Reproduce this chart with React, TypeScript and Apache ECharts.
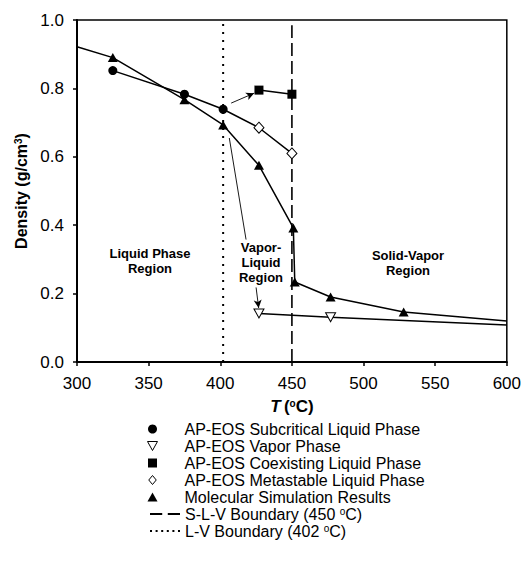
import React, { useEffect, useRef } from "react";
import * as echarts from "echarts";

const FONT = "'Liberation Sans', Arial, Helvetica, sans-serif";

// Series data [T (°C), density (g/cm3)]
const subcriticalLiquid: number[][] = [[325, 0.852], [375, 0.783], [402, 0.739]];
const vaporPhase: number[][] = [[427, 0.142], [477, 0.131], [600, 0.108]];
const coexistingLiquid: number[][] = [[427, 0.795], [450, 0.783]];
const metastableLiquid: number[][] = [[402, 0.739], [427, 0.685], [450, 0.61]];
const molecularSim: number[][] = [
  [300, 0.922], [325, 0.89], [375, 0.767], [402, 0.693], [427, 0.575],
  [451, 0.392], [452, 0.234], [477, 0.19], [528, 0.146], [600, 0.12],
];
const slvBoundary: number[][] = [[450, 0], [450, 0.985]];
const lvBoundary: number[][] = [[402, 0], [402, 1]];

const xTicks = { min: 300, max: 600, interval: 50 };
const yTicks = { min: 0, max: 1, interval: 0.2 };

const names = {
  sub: "AP-EOS Subcritical Liquid Phase",
  vap: "AP-EOS Vapor Phase",
  coex: "AP-EOS Coexisting Liquid Phase",
  meta: "AP-EOS Metastable Liquid Phase",
  ms: "Molecular Simulation Results",
  slv: "S-L-V Boundary (450 °C)",
  lv: "L-V Boundary (402 °C)",
};

// endpoints of annotation arrows (data coords)
const arrows: number[][][] = [
  [[407.6, 0.757], [423.6, 0.786]],
  [[418, 0.358], [406.3, 0.655]],
  [[425, 0.218], [426.8, 0.158]],
];

const openStyle = { color: "#fff", borderColor: "#000", borderWidth: 1 };
const downTri = "path://M0,0L10,0L5,9Z";
const upTri = "path://M5,0L10,9L0,9Z";
const square = "path://M0,0H10V10H0Z";
const diamond = "path://M5,0L10,6L5,12L0,6Z";
const dashIcon = "path://M0,0h11v1.6h-11zM16,0h11v1.6h-11z";
const dotIcon = "path://M0,0h1.8v1.8h-1.8zM5,0h1.8v1.8h-1.8zM10,0h1.8v1.8h-1.8zM15,0h1.8v1.8h-1.8zM20,0h1.8v1.8h-1.8zM25,0h1.8v1.8h-1.8z";

export default function App() {
  const ref = useRef<HTMLDivElement>(null);
  useEffect(() => {
    if (!ref.current) return;
    const chart = echarts.init(ref.current, undefined, { renderer: "svg" });
    const noSym = (i: number, arr: number[][]) => (p: number[], j: number) =>
      j === i || (i === -2 && (j === 0 || j === arr.length - 1))
        ? { value: p, symbol: "none" }
        : p;
    const lineBase = {
      type: "line",
      color: "#000",
      lineStyle: { color: "#000", width: 1.5 },
      symbolSize: 9,
      z: 5,
    };
    const legendText = { fontSize: 16, color: "#000", fontFamily: FONT };
    const option: any = {
      animation: false,
      textStyle: { fontFamily: FONT },
      grid: { left: 77, right: 15, top: 20, bottom: 205, show: true, borderColor: "#000", borderWidth: 1.5, backgroundColor: "transparent" },
      xAxis: {
        type: "value",
        ...xTicks,
        name: "{i|T} {b|(}{sup|o}{b|C)}",
        nameLocation: "middle",
        nameGap: 36,
        nameTextStyle: {
          rich: {
            i: { fontSize: 17, fontWeight: "bold", fontStyle: "italic", fontFamily: FONT, color: "#000" },
            b: { fontSize: 17, fontWeight: "bold", fontFamily: FONT, color: "#000" },
            sup: { fontSize: 10, fontWeight: "bold", fontFamily: FONT, color: "#000", verticalAlign: "top" },
          },
        },
        axisLine: { lineStyle: { color: "#000", width: 2 } },
        axisTick: { show: true, length: 4, lineStyle: { color: "#000", width: 1.5 } },
        axisLabel: { color: "#000", fontSize: 17, fontFamily: FONT, margin: 13 },
        splitLine: { show: false },
      },
      yAxis: {
        type: "value",
        ...yTicks,
        name: "{b|Density (g/cm}{sup|3}{b|)}",
        nameLocation: "middle",
        nameGap: 46,
        nameTextStyle: {
          rich: {
            b: { fontSize: 16, fontWeight: "bold", fontFamily: FONT, color: "#000" },
            sup: { fontSize: 10, fontWeight: "bold", fontFamily: FONT, color: "#000", verticalAlign: "top" },
          },
        },
        axisLine: { show: true, lineStyle: { color: "#000", width: 2 } },
        axisTick: { show: true, length: 4, lineStyle: { color: "#000", width: 1.5 } },
        axisLabel: { color: "#000", fontSize: 17, fontFamily: FONT, margin: 13, formatter: (v: number) => v.toFixed(1) },
        splitLine: { show: false },
      },
      legend: [
        {
          orient: "vertical",
          left: 147,
          top: 421,
          padding: 0,
          itemWidth: 22,
          itemHeight: 9,
          itemGap: 1,
          symbolKeepAspect: true,
          textStyle: { ...legendText, padding: [0, 0, 0, 16] },
          data: [
            { name: names.sub, icon: "circle" },
            { name: names.vap, icon: downTri, itemStyle: openStyle },
            { name: names.coex, icon: square },
            { name: names.meta, icon: diamond, itemStyle: openStyle },
            { name: names.ms, icon: upTri },
          ],
          selectedMode: false,
        },
        {
          orient: "vertical",
          left: 150,
          top: 506,
          padding: 0,
          itemWidth: 30,
          itemHeight: 9,
          itemGap: 1,
          symbolKeepAspect: true,
          formatter: (n: string) => n.replace("°", "{sup|o}"),
          textStyle: {
            ...legendText,
            rich: { sup: { fontSize: 10, color: "#000", fontFamily: FONT, verticalAlign: "top" } },
          },
          data: [
            { name: names.slv, icon: dashIcon, itemStyle: { color: "#000" } },
            { name: names.lv, icon: dotIcon, itemStyle: { color: "#000" } },
          ],
          selectedMode: false,
        },
      ],
      series: [
        {
          ...lineBase, name: names.sub, data: subcriticalLiquid, symbol: "circle",
          itemStyle: { color: "#000" },
        },
        {
          ...lineBase, name: names.vap, data: vaporPhase.map(noSym(vaporPhase.length - 1, vaporPhase)),
          symbol: downTri, symbolSize: [10, 9], itemStyle: openStyle,
        },
        {
          ...lineBase, name: names.coex, data: coexistingLiquid, symbol: "rect", symbolSize: 9,
          itemStyle: { color: "#000" },
        },
        {
          ...lineBase, name: names.meta, data: metastableLiquid.map(noSym(0, metastableLiquid)),
          symbol: "diamond", symbolSize: [10, 11], itemStyle: openStyle,
        },
        {
          ...lineBase, name: names.ms, data: molecularSim.map(noSym(-2, molecularSim)),
          symbol: "triangle", symbolSize: [10, 9], itemStyle: { color: "#000" },
        },
        {
          type: "line", name: names.slv, data: slvBoundary, symbol: "none", color: "#000",
          itemStyle: { color: "#000" },
          lineStyle: { color: "#000", width: 1.6, type: [13, 5] }, z: 3,
        },
        {
          type: "line", name: names.lv, data: lvBoundary, symbol: "none", color: "#000",
          itemStyle: { color: "#000" },
          lineStyle: { color: "#000", width: 2, type: [2, 6] }, z: 3,
        },
        {
          type: "line", name: "arrows", data: [], silent: true,
          markLine: {
            silent: true,
            symbol: ["none", "arrow"],
            symbolSize: [6, 8],
            label: { show: false },
            lineStyle: { color: "#000", width: 0.9, type: "solid" },
            data: arrows.map((a, k) => [
              { coord: a[0] },
              { coord: a[1], symbol: k === 1 ? "none" : "arrow" },
            ]),
          },
        },
      ],
      graphic: [
        {
          type: "text", x: 150, y: 260.5,
          style: { text: "Liquid Phase\nRegion", font: `bold 13px ${FONT}`, fill: "#000", align: "center", verticalAlign: "middle", lineHeight: 15 },
        },
        {
          type: "text", x: 261, y: 262,
          style: { text: "Vapor-\nLiquid\nRegion", font: `bold 13px ${FONT}`, fill: "#000", align: "center", verticalAlign: "middle", lineHeight: 15 },
        },
        {
          type: "text", x: 408, y: 262.5,
          style: { text: "Solid-Vapor\nRegion", font: `bold 13px ${FONT}`, fill: "#000", align: "center", verticalAlign: "middle", lineHeight: 15 },
        },
      ],
    };
    chart.setOption(option);
    return () => chart.dispose();
  }, []);
  return <div ref={ref} style={{ width: 524, height: 567, position: "absolute", left: 0, top: 0 }} />;
}
